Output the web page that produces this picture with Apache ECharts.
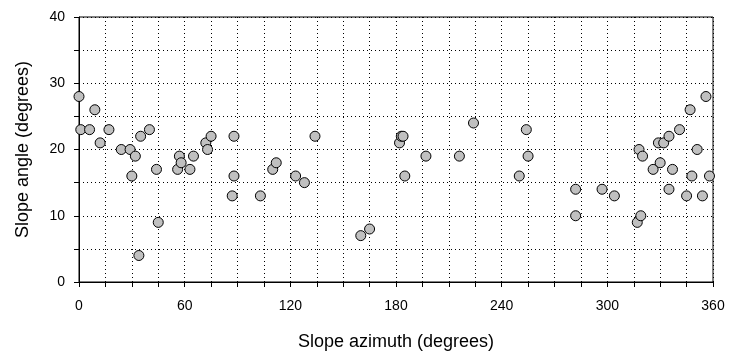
<!DOCTYPE html>
<html>
<head>
<meta charset="utf-8">
<script src="https://cdn.jsdelivr.net/npm/echarts@6/dist/echarts.min.js"></script>
<style>
  html, body { margin: 0; padding: 0; background: #fff; }
  #chart { width: 734px; height: 351px; }
</style>
</head>
<body>
<div id="chart"></div>
<script>
// slope azimuth (deg) and slope angle (deg)
var azimuth = [0, 1, 6, 9, 12, 17, 24, 29, 32, 30, 35, 40, 34, 44, 45, 56, 57, 58, 63, 65,
    72, 73, 75, 88, 88, 87, 103, 110, 112, 123, 128, 134, 160, 165, 182, 183, 184, 185,
    197, 216, 224, 250, 254, 255, 282, 282, 297, 304, 317, 319, 318, 320, 326, 330, 329,
    332, 335, 337, 335, 341, 345, 348, 347, 351, 354, 356, 358];
var angle = [28, 23, 23, 26, 21, 23, 20, 20, 19, 16, 22, 23, 4, 17, 9, 17, 19, 18, 17, 19,
    21, 20, 22, 22, 16, 13, 13, 17, 18, 16, 15, 22, 7, 8, 21, 22, 22, 16,
    19, 19, 24, 16, 23, 19, 14, 10, 14, 13, 9, 10, 20, 19, 17, 18, 21,
    21, 22, 17, 14, 23, 13, 16, 26, 20, 13, 28, 16];
var xLabels = [0, 60, 120, 180, 240, 300, 360];
var yLabels = [0, 10, 20, 30, 40];

var points = azimuth.map(function (a, i) {
    return [a, angle[i]];
});

var chart = echarts.init(document.getElementById("chart"), null, { renderer: "canvas" });

var font = "Liberation Sans, Arial, sans-serif";

var option = {
    backgroundColor: "#ffffff",
    animation: false,
    grid: {
        left: 79,
        right: 21,
        top: 17,
        bottom: 69,
        containLabel: false,
        outerBoundsMode: "none",
        show: true,
        borderColor: "#000",
        borderWidth: 1,
    },
    xAxis: {
        type: "value",
        min: 0,
        max: 360,
        interval: 15,
        name: "Slope azimuth (degrees)",
        nameLocation: "middle",
        nameGap: 51,
        nameTextStyle: { fontFamily: font, fontSize: 18, color: "#000" },
        axisLine: { lineStyle: { color: "#000", width: 1 } },
        axisTick: { show: true, length: 5, lineStyle: { color: "#000" } },
        axisLabel: {
            fontFamily: font,
            fontSize: 14,
            color: "#000",
            margin: 17,
            formatter: function (v) {
                return xLabels.indexOf(v) >= 0 ? String(v) : "";
            },
        },
        splitLine: { show: true, lineStyle: { color: "#000", type: [1, 3], width: 1 } },
    },
    yAxis: {
        type: "value",
        min: 0,
        max: 40,
        interval: 5,
        name: "Slope angle (degrees)",
        nameLocation: "middle",
        nameGap: 47,
        nameTextStyle: { fontFamily: font, fontSize: 18, color: "#000" },
        axisLine: { show: true, lineStyle: { color: "#000", width: 1 } },
        axisTick: { show: true, length: 5, lineStyle: { color: "#000" } },
        axisLabel: {
            fontFamily: font,
            fontSize: 14,
            color: "#000",
            margin: 14,
            formatter: function (v) {
                return yLabels.indexOf(v) >= 0 ? String(v) : "";
            },
        },
        splitLine: { show: true, lineStyle: { color: "#000", type: [1, 3], width: 1 } },
    },
    series: [
        {
            type: "scatter",
            data: points,
            symbol: "circle",
            symbolSize: 10,
            itemStyle: {
                color: "#c0c0c0",
                borderColor: "#000",
                borderWidth: 1,
                opacity: 1,
            },
        },
    ],
};

chart.setOption(option);
</script>
</body>
</html>
